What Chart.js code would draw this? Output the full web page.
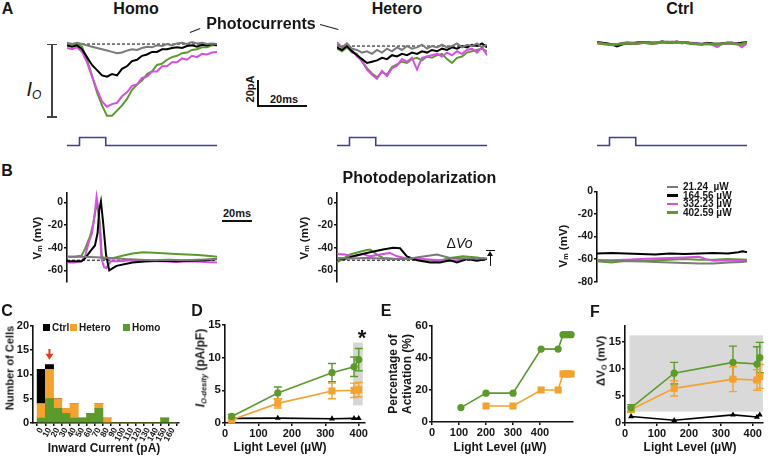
<!DOCTYPE html>
<html>
<head>
<meta charset="utf-8">
<title>Photocurrents and photodepolarization</title>
<script src="https://cdn.jsdelivr.net/npm/chart.js@4.4.1/dist/chart.umd.min.js"></script>
<style>
  body { margin: 0; background: #fff; }
  #fig { position: relative; width: 773px; height: 458px; overflow: hidden;
         font-family: "Liberation Sans", Arial, sans-serif; color: #161616; }
  #fig canvas { position: absolute; }
  .lbl { position: absolute; white-space: pre; font-weight: bold; line-height: 1;
         transform: translate(-50%, -50%); }
  .rot { transform: translate(-50%, -50%) rotate(-90deg); }
  .ln { position: absolute; }
  sub { font-size: 62%; vertical-align: -0.25em; }
</style>
</head>
<body>
<div id="fig"></div>
<script>
const FONT = '"Liberation Sans", Arial, sans-serif';
Chart.defaults.font.family = FONT;
Chart.defaults.color = '#161616';

const GRAY = '#7a7a7a', BLACK = '#000000', MAGENTA = '#d64fe2', GREEN = '#5c9a2b',
      ORANGE = '#f4a22f', BLUE = '#3d4196';

// ---- A: photocurrents (pA), sampled every 2 ms ----
const tA = [0,2,4,6,8,10,12,14,16,18,20,22,24,26,28,30,32,34,36,38,40,42,44,46,48,50,52,54,56,58,60];
const homoGrayA  = [1,0,1,0,-1,-2,-3,-4,-5,-6,-7,-6.5,-5,-4,-4.5,-3,-2,-2.5,-1,-1.5,0,-1,0.5,1,0,1.5,0.5,1,0,0.5,0];
const homoBlackA = [-1,-2,-1,-4,-10,-16,-20,-24,-25,-23,-24,-19,-17,-13,-12,-9,-8,-6,-6,-4,-4,-3,-2.5,-3,-1.5,-1,-2,-0.5,-1,0,-1];
const homoMagA   = [-3,-4,-2.5,-6,-14,-25,-35,-44,-48,-46,-45,-40,-37,-32,-31,-26,-25,-21,-21,-17,-17,-14,-14,-11,-12,-9,-10,-7.5,-8,-6.5,-6];
const homoGreenA = [0.5,-0.5,0.3,-2,-12,-24,-37,-47,-55,-55,-51,-47,-42,-35,-31,-28,-23,-21,-16,-15,-12,-10,-9,-7,-6.5,-4.5,-4,-2.5,-2.5,-1,-1];
const hetGrayA   = [1,-1,2,-2,-3,-5,-4,-6,-3,-5,-2,-4,-1,-3,0,-2,-1,1,-2,0,-1,1,-1,0,2,-1,1,0,2,-1,1];
const hetBlackA  = [-1,-3,0,-4,-7,-10,-13,-12,-11,-9,-10,-7,-8,-6,-7,-5,-6,-4,-5,-3,-4,-2,-3,-1,-2,0,-1,1,0,2,-1];
const hetMagA    = [3,-1,0,-3,-8,-11,-18,-22,-25,-19,-23,-17,-15,-10,-12,-9,-18,-9,-8,-7,-6,-8,-5,-7,-4,-6,-3,-2,-5,-1,-7];
const hetGreenA  = [-2,-4,-1,-5,-6,-12,-17,-21,-24,-20,-22,-16,-14,-12,-13,-10,-9,-11,-8,-9,-7,-6,-10,-13,-9,-8,-5,-4,-3,-2,-4];
const ctrlGrayA  = [0.5,0,-0.5,-1,-1,0,0,0,0.5,0.5,0,0,0.5,1,0.5,0.5,0.5,0.5,0,0,-0.5,-0.5,-0.5,-0.5,-0.5,-0.5,0,0,-0.5,0,0.5];
const ctrlBlackA = [0.5,0,-0.5,-1,-2.5,-1,0,-0.5,0,0.5,0.5,0,0,1,0.5,0.5,1,0,0.5,-0.5,-0.5,-1,0,-0.5,-1,-0.5,0,0,-0.5,0,0.5];
const ctrlMagA   = [0,-0.5,-1,-1,-1,-0.5,0.5,0,-0.5,0,0.5,-0.5,0.5,0.5,0.5,1,0.5,0,0.5,-0.5,-0.5,-1,-0.5,-1,-3,-0.5,-0.5,0,-0.5,-3,0];
const ctrlGreenA = [0,-0.5,-1,-1.5,-1,-0.5,0,-0.5,-0.3,0.5,0,-0.5,0,0.5,1,0.5,0.8,0.3,0,-0.5,-1,-0.8,-0.5,-1,-0.5,-0.8,0,-0.3,-1,-0.5,0.5];
// light pulse (on = 1)
const pulseT = [0, 5, 15.5, 60];
const pulseV = [0, 1, 0, 0];

// ---- B: membrane potential (ms, mV) ----
const homoGrayB  = [[0,-48],[10,-48],[20,-48.5],[30,-49],[40,-50],[50,-50.5],[60,-51],[70,-50.5],[80,-51],[90,-50.5],[103,-50]];
const homoBlackB = [[0,-52],[10,-52],[12,-50],[15.8,-43.5],[19.2,-38],[21,-27],[22.2,-6],[23.3,1],[24.9,-19],[26.8,-46],[29,-60],[34,-56],[45,-53],[55,-52],[65,-51.5],[75,-52],[85,-51.5],[95,-51],[103,-50]];
const homoMagB   = [[0,-53],[5,-53],[10,-52],[12.5,-47],[15,-35],[17.2,-27],[18.5,-15],[19.5,-5],[20.3,5],[21.5,-5],[22.3,-20],[23.7,-50],[25.5,-57],[27,-58],[30,-52],[35,-52],[45,-51],[55,-52],[65,-52],[75,-52.5],[85,-52],[95,-52.5],[103,-53]];
const homoGreenB = [[0,-48],[5,-48],[10,-47],[12.4,-41],[15.8,-30],[18,-19],[19.7,-6],[20.8,-2],[22.7,-19],[23.8,-46],[25,-50],[28,-50],[32,-49],[38,-47],[45,-45],[52,-44],[60,-44.5],[68.7,-45],[75,-45.5],[82.4,-46],[90,-46.5],[100,-47.5],[103,-48]];
const hetGrayB   = [[0,-49],[10,-49.5],[20,-49],[30,-49.5],[40,-50],[50,-49.5],[58,-48],[68.7,-46],[77.6,-49],[90,-49.5],[103,-49.5]];
const hetBlackB  = [[0,-49],[5.5,-50],[12.4,-47],[22.7,-44],[31.6,-41.5],[38.5,-40],[43.3,-40.5],[48,-47.6],[55,-51],[64,-53],[70.7,-53],[77.6,-51],[82.4,-53],[89.3,-50],[96,-51.5],[103,-50]];
const hetMagB    = [[0,-45.6],[5.5,-46],[11,-47.6],[17.9,-45.6],[22.7,-47.6],[31.6,-45.6],[36.4,-44.6],[41.2,-47.6],[48,-49.5],[59,-50],[77.6,-51.6],[98,-49],[103,-50]];
const hetGreenB  = [[0,-53],[9,-46],[15.8,-43.5],[20.6,-42],[22.7,-41.5],[27.5,-46],[31.6,-49],[41,-50],[55,-50],[68.7,-52],[77.6,-49],[86.5,-47.6],[96,-48.6],[103,-50]];
const ctrlGrayB  = [[0,-61],[10,-61.5],[20,-62],[30,-62],[40,-62.5],[50,-63],[60,-63.5],[70,-64],[80,-64],[90,-63],[100,-62.5],[103,-62]];
const ctrlBlackB = [[0,-55],[10,-54.5],[20,-55],[30,-55.5],[40,-56],[50,-55],[60,-55.5],[70,-55],[80,-54.5],[90,-55],[97,-54],[100,-53],[103,-54]];
const ctrlMagB   = [[0,-61],[10,-61],[20,-60.5],[30,-60],[40,-59.5],[50,-59],[60,-58.5],[70,-58],[75,-60],[80,-61.5],[90,-61],[103,-62]];
const ctrlGreenB = [[0,-62],[10,-63],[20,-61.5],[30,-62],[40,-61],[50,-60.5],[60,-60],[70,-60.5],[80,-60.5],[90,-60],[103,-60.5]];
const restB = -51;
const powerLabels = ['21.24  \u00b5W', '164.56 \u00b5W', '332.23 \u00b5W', '402.59 \u00b5W'];

// ---- C: histogram of inward current ----
const binsC   = [0,10,20,30,40,50,60,70,80,90,100,110,120,130,140,150,160];
const homoC   = [1,5,3,2,1,1,2,3,0,0,0,0,0,0,0,1,0];
const heteroC = [3,6,2,1,3,0,0,1,1,0,0,0,0,0,0,0,0];
const ctrlC   = [7,1,0,0,0,0,0,0,0,0,0,0,0,0,0,0,0];

// ---- D: current density vs light level ----
const lightD     = [20, 158, 320, 386, 400];
const homoD      = [1.0, 4.6, 7.7, 8.6, 9.7];
const homoDErr   = [0.3, 0.9, 1.4, 1.5, 1.7];
const heteroD    = [0.5, 3.0, 4.9, 5.0, 5.1];
const heteroDErr = [0.2, 0.7, 1.2, 1.1, 1.1];
const ctrlD      = [0.7, 0.75, 0.65, 0.7, 0.7];

// ---- E: percentage of activation ----
const lightEHomo   = [107, 200, 300, 404, 467, 485, 495, 505, 515];
const homoE        = [9, 18, 18, 45.5, 45.5, 54.5, 54.5, 54.5, 54.5];
const lightEHetero = [200, 300, 404, 467, 485, 495, 505, 515];
const heteroE      = [10, 10, 20, 20, 30, 30, 30, 30];

// ---- F: photodepolarization ----
const lightF     = [19, 154, 338, 413, 422];
const homoF      = [2.8, 9.2, 11.2, 10.9, 12.1];
const homoFErr   = [0.6, 2.0, 3.0, 3.2, 2.8];
const heteroF    = [2.5, 6.4, 8.1, 7.95, 8.6];
const heteroFErr = [0.5, 1.4, 2.3, 1.9, 2.2];
const ctrlF      = [1.2, 0.5, 1.5, 1.1, 1.5];

const fig = document.getElementById('fig');

// plugins: shaded boxes, error bars, arrow marker
Chart.register({
  id: 'shade',
  beforeDatasetsDraw(chart, args, opts) {
    if (!opts.box) return;
    const [x0, x1, y0, y1] = opts.box;
    const xs = chart.scales.x, ys = chart.scales.y, ctx = chart.ctx;
    const px0 = xs.getPixelForValue(x0), px1 = xs.getPixelForValue(x1);
    const py0 = ys.getPixelForValue(y1), py1 = ys.getPixelForValue(y0);
    ctx.save();
    ctx.fillStyle = opts.color || '#d7d7d7';
    ctx.fillRect(px0, py0, px1 - px0, py1 - py0);
    ctx.restore();
  }
}, {
  id: 'errorBars',
  beforeDatasetsDraw(chart) {
    const ctx = chart.ctx, ys = chart.scales.y;
    chart.data.datasets.forEach((ds, i) => {
      if (!ds.errors) return;
      const meta = chart.getDatasetMeta(i);
      ctx.save();
      ctx.strokeStyle = ds.borderColor;
      ctx.lineWidth = 1.4;
      meta.data.forEach((pt, j) => {
        const v = ds.data[j].y, e = ds.errors[j];
        const top = ys.getPixelForValue(v + e), bot = ys.getPixelForValue(v - e);
        ctx.beginPath();
        ctx.moveTo(pt.x, top); ctx.lineTo(pt.x, bot);
        ctx.moveTo(pt.x - 4, top); ctx.lineTo(pt.x + 4, top);
        ctx.moveTo(pt.x - 4, bot); ctx.lineTo(pt.x + 4, bot);
        ctx.stroke();
      });
      ctx.restore();
    });
  }
}, {
  id: 'arrow',
  afterDatasetsDraw(chart, args, opts) {
    if (!opts.at) return;
    const [xv, yFrom, yTo] = opts.at;
    const ctx = chart.ctx;
    const px = chart.scales.x.getPixelForValue(xv);
    const p0 = chart.scales.y.getPixelForValue(yFrom), p1 = chart.scales.y.getPixelForValue(yTo);
    ctx.save();
    ctx.strokeStyle = ctx.fillStyle = opts.color;
    ctx.lineWidth = 2;
    ctx.beginPath(); ctx.moveTo(px, p0); ctx.lineTo(px, p1 - 4); ctx.stroke();
    ctx.beginPath(); ctx.moveTo(px - 4, p1 - 5); ctx.lineTo(px + 4, p1 - 5); ctx.lineTo(px, p1 + 1); ctx.closePath(); ctx.fill();
    ctx.restore();
  }
});

function canvasAt(left, top, w, h) {
  const c = document.createElement('canvas');
  c.width = w; c.height = h;
  c.style.left = left + 'px'; c.style.top = top + 'px';
  c.style.width = w + 'px'; c.style.height = h + 'px';
  fig.appendChild(c);
  return c;
}

function hidden(min, max) {
  return { type: 'linear', display: false, min, max };
}

function axis(min, max, ticks, size, fontSize, extraTicks) {
  return {
    type: 'linear', min, max, offset: false,
    afterBuildTicks: ax => { ax.ticks = ticks.map(v => ({ value: v })); },
    afterFit: ax => { if (ax.isHorizontal()) ax.height = size; else ax.width = size; },
    border: { display: true, color: '#111', width: 1.6 },
    grid: { drawOnChartArea: false, drawTicks: true, tickLength: 3, color: '#111', lineWidth: 1.5 },
    ticks: Object.assign({ color: '#161616', font: { size: fontSize, weight: 'bold' },
                           padding: 1, autoSkip: false, maxRotation: 0 }, extraTicks || {})
  };
}

function opts(scales, padding, plugins) {
  return {
    responsive: false, animation: false, devicePixelRatio: 1,
    layout: { padding: padding || 0, autoPadding: false },
    plugins: Object.assign({ legend: { display: false }, tooltip: { enabled: false } }, plugins || {}),
    scales
  };
}

function trace(xs, ys, color, width) {
  return { data: xs.map((x, i) => ({ x, y: ys[i] })), borderColor: color, borderWidth: width || 2,
           pointRadius: 0, fill: false, clip: false, tension: 0 };
}
function tracePairs(pairs, color, width) {
  return trace(pairs.map(p => p[0]), pairs.map(p => p[1]), color, width);
}
function dashed(x0, x1, y) {
  return { data: [{ x: x0, y }, { x: x1, y }], borderColor: '#000', borderWidth: 1,
           borderDash: [3, 2], pointRadius: 0, clip: false };
}

// ---------- A ----------
const PA_PX = 94 / 72;
function photoChart(left, baseY, sets) {
  new Chart(canvasAt(left, Math.round(baseY - 10 * PA_PX), 150, 94), {
    type: 'line', data: { datasets: sets },
    options: opts({ x: hidden(0, 60), y: hidden(-62, 10) })
  });
}
function pulseChart(left) {
  new Chart(canvasAt(left, 136, 151, 11), {
    type: 'line',
    data: { datasets: [Object.assign(trace(pulseT, pulseV, BLUE, 1.6), { stepped: 'before' })] },
    options: opts({ x: hidden(0, 60), y: hidden(-0.2, 1.2) }, { right: 1 })
  });
}
photoChart(67, 44, [trace(tA, homoGrayA, GRAY), trace(tA, homoBlackA, BLACK), trace(tA, homoMagA, MAGENTA),
                    trace(tA, homoGreenA, GREEN), dashed(0, 60, 0)]);
photoChart(337, 46, [trace(tA, hetGrayA, GRAY), trace(tA, hetBlackA, BLACK), trace(tA, hetMagA, MAGENTA),
                     trace(tA, hetGreenA, GREEN), dashed(0, 60, 0)]);
photoChart(597, 43, [trace(tA, ctrlGreenA, GREEN, 2.4), trace(tA, ctrlMagA, MAGENTA, 2.4),
                     trace(tA, ctrlBlackA, BLACK, 2.4), trace(tA, ctrlGrayA, GRAY, 2.4)]);
pulseChart(67); pulseChart(337); pulseChart(597);

// ---------- B ----------
function vmChart(left, top, h, yMin, yMax, ticks, sets) {
  new Chart(canvasAt(left - 30, top, 181, h), {
    type: 'line', data: { datasets: sets },
    options: opts({ x: hidden(0, 103), y: axis(yMin, yMax, ticks, 30, 10.5) }, { top: 7, right: 1, left: 0, bottom: 0 })
  });
}
vmChart(67, 185, 104, -70, 9, [0, -20, -40, -60],
  [tracePairs(homoGrayB, GRAY), tracePairs(homoBlackB, BLACK), tracePairs(homoMagB, MAGENTA),
   tracePairs(homoGreenB, GREEN), dashed(0, 103, restB)]);
vmChart(337, 185, 104, -70, 9, [0, -20, -40, -60],
  [tracePairs(hetGrayB, GRAY), tracePairs(hetBlackB, BLACK), tracePairs(hetMagB, MAGENTA),
   tracePairs(hetGreenB, GREEN), dashed(0, 103, restB)]);
vmChart(597, 184, 105, -80, 0, [0, -20, -40, -60, -80],
  [tracePairs(ctrlGrayB, GRAY), tracePairs(ctrlBlackB, BLACK), tracePairs(ctrlMagB, MAGENTA),
   tracePairs(ctrlGreenB, GREEN)]);

// ---------- C ----------
function bars(vals, color) {
  return { type: 'bar', data: binsC.map((x, i) => ({ x, y: vals[i] })), backgroundColor: color,
           borderWidth: 0, barPercentage: 1, categoryPercentage: 1 };
}
const xC = axis(-10, 167, binsC, 20, 8.5, { minRotation: 62, maxRotation: 62, padding: 0 });
xC.stacked = true;
const yC = axis(0, 20, [0, 5, 10, 15, 20], 33, 11);
yC.stacked = true;
new Chart(canvasAt(0, 318, 182, 125), {
  type: 'bar',
  data: { datasets: [bars(homoC, GREEN), bars(heteroC, ORANGE), bars(ctrlC, BLACK)] },
  options: opts({ x: xC, y: yC }, { top: 5, right: 2, left: 0, bottom: 0 },
                { arrow: { at: [10, 15.2, 13.2], color: '#e23b22' } })
});

// ---------- D, E, F ----------
function series(xs, ys, color, style, radius, errs) {
  const d = { data: xs.map((x, i) => ({ x, y: ys[i] })), borderColor: color, backgroundColor: color,
              borderWidth: 1.6, pointStyle: style, pointRadius: radius, pointBorderWidth: 0,
              pointBackgroundColor: color, clip: false, tension: 0 };
  if (errs) d.errors = errs;
  return d;
}
new Chart(canvasAt(191, 317, 178, 124), {
  type: 'line',
  data: { datasets: [series(lightD, homoD, GREEN, 'circle', 3.6, homoDErr),
                     series(lightD, heteroD, ORANGE, 'rect', 5, heteroDErr),
                     series(lightD, ctrlD, BLACK, 'triangle', 3.4)] },
  options: opts({ x: axis(0, 418, [0, 100, 200, 300, 400], 18, 11),
                  y: axis(0, 15, [0, 5, 10, 15], 34, 11.5) },
                { top: 6, right: 2, left: 0, bottom: 0 },
                { shade: { box: [383, 412, 2.7, 12.3], color: '#d6d6d6' } })
});
new Chart(canvasAt(398, 318, 177, 122), {
  type: 'line',
  data: { datasets: [series(lightEHomo, homoE, GREEN, 'circle', 3.6),
                     series(lightEHetero, heteroE, ORANGE, 'rect', 5)] },
  options: opts({ x: axis(0, 522, [0, 100, 200, 300, 400], 18, 11),
                  y: axis(0, 60, [0, 20, 40, 60], 34, 11.5) },
                { top: 6, right: 2, left: 0, bottom: 0 })
});
new Chart(canvasAt(591, 318, 174, 123), {
  type: 'line',
  data: { datasets: [series(lightF, homoF, GREEN, 'circle', 3.6, homoFErr),
                     series(lightF, heteroF, ORANGE, 'rect', 5, heteroFErr),
                     series(lightF, ctrlF, BLACK, 'triangle', 3.4)] },
  options: opts({ x: axis(0, 432, [0, 100, 200, 300, 400], 18, 11),
                  y: axis(0, 18, [0, 5, 10, 15], 34, 11) },
                { top: 6, right: 2, left: 0, bottom: 0 },
                { shade: { box: [14, 432, 2.1, 16.2], color: '#d9d9d9' } })
});

// ---------- text and annotations ----------
function label(html, cx, cy, size, rot, style) {
  const d = document.createElement('div');
  d.className = 'lbl' + (rot ? ' rot' : '');
  d.innerHTML = html;
  d.style.left = cx + 'px'; d.style.top = cy + 'px'; d.style.fontSize = size + 'px';
  if (style) Object.assign(d.style, style);
  fig.appendChild(d);
  return d;
}
function rect(x, y, w, h, color) {
  const d = document.createElement('div');
  d.className = 'ln';
  Object.assign(d.style, { left: x + 'px', top: y + 'px', width: w + 'px', height: h + 'px', background: color || '#111' });
  fig.appendChild(d);
  return d;
}
function seg(x1, y1, x2, y2, w, color) {
  const len = Math.hypot(x2 - x1, y2 - y1), ang = Math.atan2(y2 - y1, x2 - x1) * 180 / Math.PI;
  const d = rect(x1, y1 - w / 2, len, w, color);
  d.style.transformOrigin = '0 50%';
  d.style.transform = 'rotate(' + ang + 'deg)';
}

// panel letters
[['A', 7.5, 9], ['B', 7, 171], ['C', 7, 311], ['D', 197, 311], ['E', 386, 311], ['F', 595, 312]]
  .forEach(p => label(p[0], p[1], p[2], 16));
// column titles
label('Homo', 136, 9, 16);
label('Hetero', 397, 9, 16);
label('Ctrl', 680, 9, 16);
label('Photocurrents', 261, 24, 16);
seg(190, 32.5, 200, 28.5, 1.2, '#222');
seg(320, 25, 338, 30, 1.2, '#222');
label('Photodepolarization', 419.5, 178, 16);

// Io bracket
rect(51, 44, 1.5, 73, '#444');
rect(46.5, 43.5, 10.5, 1.5, '#444');
rect(46.5, 116, 10.5, 1.5, '#444');
label('<i>I<sub style="font-size:60%">O</sub></i>', 34, 90, 20, false, { fontWeight: 'normal' });

// A scale bar
rect(257, 80, 1.6, 27, '#111');
rect(257, 105.4, 50, 1.6, '#111');
label('20ms', 284, 98.5, 11);
label('20pA', 249.5, 89, 11, true);

// B scale bar
rect(222, 220, 30, 2, '#111');
label('20ms', 237, 213, 11);

// Vm axis titles
const vmTitle = 'V<sub>m</sub> (mV)';
label(vmTitle, 37.5, 238, 11.5, true);
label(vmTitle, 305, 238, 11.5, true);
label(vmTitle, 564, 246, 11.5, true);

// delta Vo
label('\u0394<i>Vo</i>', 459.5, 243, 14, false, { fontWeight: 'normal' });
rect(486, 249.5, 9, 1.3, '#111');
rect(489.8, 254, 1, 12, '#111');
const head = rect(487.3, 251, 0, 0, 'transparent');
Object.assign(head.style, { borderLeft: '3px solid transparent', borderRight: '3px solid transparent', borderBottom: '5px solid #111' });

// B legend
[GRAY, BLACK, MAGENTA, GREEN].forEach((c, i) => {
  const y = 187 + i * 8.5;
  rect(667, y - 1.2, 11, 2.4, c);
  const d = label(powerLabels[i], 683, y, 10);
  d.style.transform = 'translate(0, -50%)';
});

// C legend and titles
[[43, BLACK, 'Ctrl'], [70, ORANGE, 'Hetero'], [123, GREEN, 'Homo']].forEach(l => {
  rect(l[0], 324, 7, 7, l[1]);
  const d = label(l[2], l[0] + 9, 327.5, 10);
  d.style.transform = 'translate(0, -50%)';
});
label('Number of Cells', 10, 368, 11, true);
label('Inward Current (pA)', 104, 448, 12);

// D titles
label('<i>I</i><sub><i>O-desity</i></sub> (pA/pF)', 201, 368, 12, true);
label('Light Level (\u00b5W)', 280, 447, 12);
label('*', 362, 338, 22);

// E titles
label('Percentage of', 393, 374, 12, true);
label('Activation (%)', 407, 374, 12, true);
label('Light Level (\u00b5W)', 500, 447, 12);

// F titles
label('\u0394V<sub>O</sub> (mV)', 602, 361, 11.5, true);
label('Light Level (\u00b5W)', 690, 447, 12);
</script>
</body>
</html>
